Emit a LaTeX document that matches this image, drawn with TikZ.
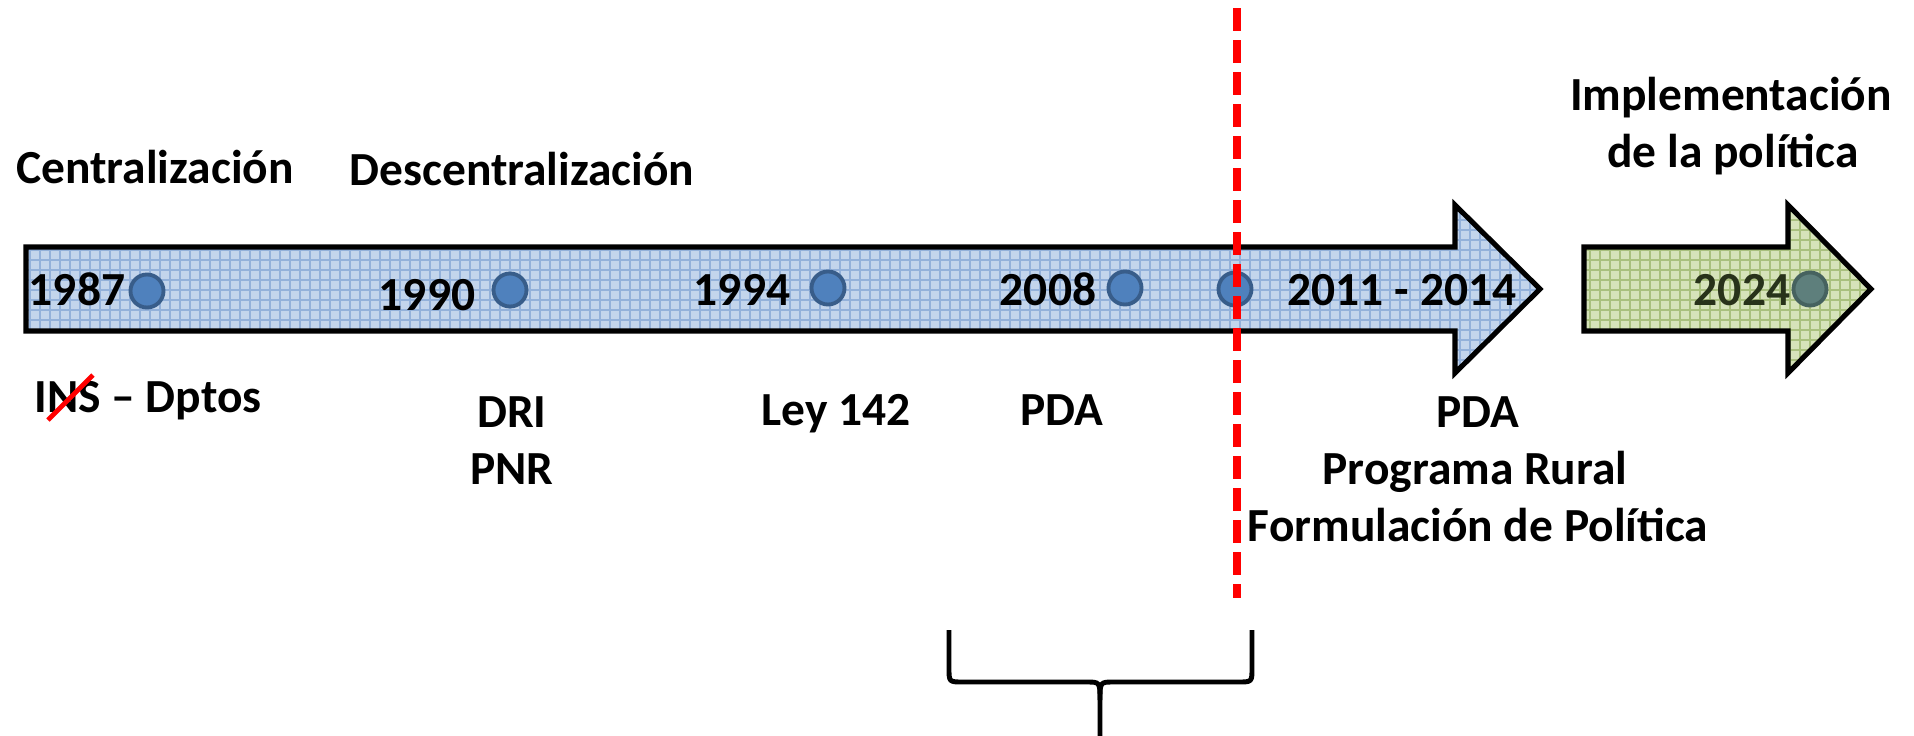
\documentclass[tikz,border=0pt]{standalone}
\usepackage{fontspec}
\setmainfont{Carlito}
\usetikzlibrary{positioning}
\definecolor{azulfondo}{HTML}{C3D5EC}
\definecolor{azulrejilla}{HTML}{93B1DA}
\definecolor{verdefondo}{HTML}{D6E3BA}
\definecolor{verderejilla}{HTML}{A9C07E}
\definecolor{azulpunto}{HTML}{4F81BD}
\definecolor{azulborde}{HTML}{385D8A}
\definecolor{grispunto}{HTML}{5E7F7C}
\definecolor{grisborde}{HTML}{46625F}
\definecolor{textoverde}{HTML}{28321A}

\tikzset{
  etiqueta/.style={font=\fontsize{13.5}{16.4}\selectfont\bfseries, inner sep=0pt, anchor=base},
  punto/.style={circle, draw=azulborde, fill=azulpunto, line width=1.1pt, minimum size=0.33cm, inner sep=0pt},
  borde/.style={draw=black, line width=1.45pt, line join=miter},
  rejilla/.style={line width=0.3pt}
}

\begin{document}
\begin{tikzpicture}[x=0.01cm, y=-0.01cm]
\useasboundingbox (0,0) rectangle (1914,736);

% Flecha azul
\begin{scope}
  \clip (26,247) -- (1455,247) -- (1455,205) -- (1540,289) -- (1455,373) -- (1455,331) -- (26,331) -- cycle;
  \fill[azulfondo] (20,200) rectangle (1550,380);
  \foreach \gx in {30,40,...,1540}
    \draw[rejilla, azulrejilla] (\gx,200) -- (\gx,380);
  \foreach \gy in {200,210,...,380}
    \draw[rejilla, azulrejilla] (20,\gy) -- (1550,\gy);
\end{scope}
\draw[borde] (26,247) -- (1455,247) -- (1455,205) -- (1540,289) -- (1455,373) -- (1455,331) -- (26,331) -- cycle;

% Flecha verde
\begin{scope}
  \clip (1584,247) -- (1788,247) -- (1788,205) -- (1871,289) -- (1788,373) -- (1788,331) -- (1584,331) -- cycle;
  \fill[verdefondo] (1580,200) rectangle (1880,380);
  \foreach \gx in {1590,1600,...,1870}
    \draw[rejilla, verderejilla] (\gx,200) -- (\gx,380);
  \foreach \gy in {200,210,...,380}
    \draw[rejilla, verderejilla] (1580,\gy) -- (1880,\gy);
\end{scope}
\draw[borde] (1584,247) -- (1788,247) -- (1788,205) -- (1871,289) -- (1788,373) -- (1788,331) -- (1584,331) -- cycle;

% Puntos
\foreach \nombre/\px/\py in {p1987/147/291, p1990/510/290, p1994/828/288, p2008/1125/288, pcorte/1235/289}
  \node[punto] (\nombre) at (\px,\py) {};
\node[punto, draw=grisborde, fill=grispunto] (p2024) at (1810,289) {};

% Años
\node[etiqueta] (a1987) at (77,305) {1987};
\node[etiqueta] (a1990) at (427,310) {1990};
\node[etiqueta] (a1994) at (742,305) {1994};
\node[etiqueta] (a2008) at (1048,305) {2008};
\node[etiqueta] (a2011) at (1402,305) {2011 - 2014};
\node[etiqueta, text=textoverde] (a2024) at (1742,305) {2024};

% Titulos
\node[etiqueta] (central) at (155,183) {Centralización};
\node[etiqueta] (descentral) at (522,185) {Descentralización};
\node[etiqueta] (implementa) at (1731,110) {Implementación};
\node[etiqueta] (implementb) at (1733,167) {de la política};

% Hitos
\node[etiqueta] (ins) at (148,412) {INS – Dptos};
\draw[red, line width=1.4pt] (48,420) -- (93,375);
\node[etiqueta] (dri) at (512,427) {DRI};
\node[etiqueta] (pnr) at (512,484) {PNR};
\node[etiqueta] (ley) at (836,425) {Ley 142};
\node[etiqueta] (pdaa) at (1062,425) {PDA};
\node[etiqueta] (pdab) at (1478,427) {PDA};
\node[etiqueta] (rural) at (1475,484) {Programa Rural};
\node[etiqueta] (formula) at (1478,541) {Formulación de Política};

% Corte
\coordinate (corteA) at (1237,8);
\coordinate (corteB) at (1237,598);
\draw[red, line width=2pt, dash pattern=on 6.5pt off 2.6pt] (corteA) -- (corteB);

% Llave
\draw[line width=1.4pt] (949,630) -- (949,668) .. controls (949,682) .. (963,682) -- (1086,682) .. controls (1100,682) .. (1100,700) -- (1100,740);
\draw[line width=1.4pt] (1252,630) -- (1252,668) .. controls (1252,682) .. (1238,682) -- (1114,682) .. controls (1100,682) .. (1100,700);
\end{tikzpicture}
\end{document}
